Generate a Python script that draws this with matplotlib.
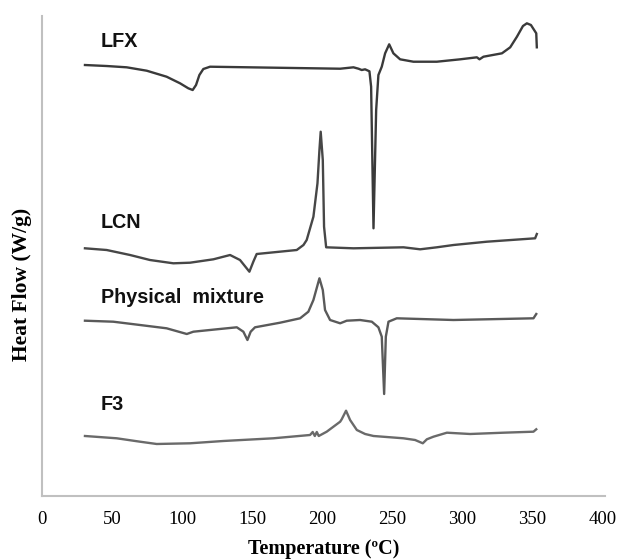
import matplotlib
matplotlib.use("Agg")
import matplotlib.pyplot as plt

# --- Data (temperature in °C, heat flow in arbitrary offset units) ---
lfx_t = [30.7, 46.2, 60.5, 74.8, 89.0, 98.6, 104.5, 107.6, 110.0, 112.4, 115.2, 120.0,
         212.9, 222.4, 226.0, 228.3, 230.7, 233.8, 235.0, 236.7, 238.6, 240.2, 242.6,
         245.0, 247.9, 250.9, 255.7, 265.2, 281.9, 298.6, 310.5, 312.4, 315.2, 328.4,
         334.3, 339.1, 343.4, 346.2, 349.1, 352.9, 353.3]
lfx_hf = [43.1, 43.0, 42.87, 42.53, 41.93, 41.27, 40.77, 40.6, 41.1, 42.1, 42.7, 42.93,
          42.73, 42.87, 42.73, 42.6, 42.67, 42.47, 40.93, 26.77, 38.6, 42.1, 42.93,
          44.27, 45.17, 44.27, 43.67, 43.43, 43.43, 43.67, 43.87, 43.67, 43.93, 44.27,
          44.87, 45.93, 47.0, 47.27, 47.1, 46.27, 44.87]

lcn_t = [30.7, 46.2, 62.9, 77.1, 93.8, 105.7, 122.4, 134.3, 141.4, 148.1, 150.9, 153.3,
         181.9, 186.7, 189.0, 193.8, 196.7, 198.1, 199.0, 200.5, 201.4, 202.9, 222.4,
         258.1, 270.0, 281.9, 293.8, 317.6, 352.1, 353.3]
lcn_hf = [24.77, 24.6, 24.1, 23.6, 23.27, 23.33, 23.67, 24.1, 23.6, 22.43, 23.43, 24.2,
          24.6, 25.1, 25.6, 27.93, 31.27, 34.6, 36.43, 33.6, 26.93, 24.87, 24.77,
          24.87, 24.67, 24.87, 25.1, 25.43, 25.77, 26.2]

pm_t = [30.7, 50.9, 70.0, 89.0, 103.4, 108.1, 124.8, 139.1, 143.8, 146.7, 149.0, 152.1,
        170.0, 184.3, 190.2, 193.8, 198.1, 200.5, 202.1, 205.7, 212.9, 217.6, 227.1,
        235.5, 240.2, 242.6, 244.3, 245.5, 247.4, 253.3, 293.8, 350.9, 352.9]
pm_hf = [17.53, 17.43, 17.1, 16.77, 16.2, 16.43, 16.67, 16.87, 16.43, 15.6, 16.43, 16.87,
         17.33, 17.77, 18.43, 19.6, 21.77, 20.6, 18.6, 17.6, 17.27, 17.53, 17.6,
         17.43, 16.87, 15.93, 10.2, 15.93, 17.43, 17.77, 17.6, 17.77, 18.2]

f3_t = [30.7, 53.4, 70.0, 81.9, 105.7, 129.5, 165.2, 191.4, 193.3, 194.8, 196.2, 197.6,
        203.3, 212.9, 214.0, 217.1, 220.0, 224.8, 230.7, 236.7, 258.1, 266.4, 271.9,
        274.8, 279.5, 289.1, 305.7, 329.5, 350.9, 352.9]
f3_hf = [6.0, 5.77, 5.43, 5.2, 5.27, 5.5, 5.77, 6.1, 6.4, 6.0, 6.4, 6.0,
         6.43, 7.43, 7.67, 8.53, 7.6, 6.6, 6.2, 6.0, 5.77, 5.6, 5.27,
         5.67, 5.93, 6.33, 6.2, 6.33, 6.43, 6.67]

labels = ["LFX", "LCN", "Physical  mixture", "F3"]
label_y = [45.5, 27.4, 19.9, 9.1]
x_ticks = [0, 50, 100, 150, 200, 250, 300, 350, 400]

# --- Plot ---
fig = plt.figure(figsize=(6.17, 5.6), dpi=100)
ax = fig.add_axes([0.068, 0.1143, 0.9126, 0.8571])

series = [(lfx_t, lfx_hf, "#3a3a3a"), (lcn_t, lcn_hf, "#474747"),
          (pm_t, pm_hf, "#5a5a5a"), (f3_t, f3_hf, "#6a6a6a")]
for t, hf, c in series:
    ax.plot(t, hf, color=c, linewidth=1.7, solid_joinstyle="round")

for name, y in zip(labels, label_y):
    ax.text(42, y, name, fontsize=14.2, fontweight="bold", family="Liberation Sans",
            ha="left", va="center", color="#111111")

ax.set_xlim(0, 402)
ax.set_ylim(0, 48)
ax.set_xticks(x_ticks)
ax.set_xticklabels([str(v) for v in x_ticks], family="Liberation Serif", fontsize=13.5)
ax.set_yticks([])
ax.tick_params(axis="x", length=0, pad=11)

ax.set_xlabel("Temperature (ºC)", family="Liberation Serif", fontweight="bold",
              fontsize=14.5, labelpad=8)
ax.set_ylabel("Heat Flow (W/g)", family="Liberation Serif", fontweight="bold",
              fontsize=15.5)
ax.yaxis.set_label_coords(-0.018, 0.44)

for s in ["top", "right"]:
    ax.spines[s].set_visible(False)
for s in ["left", "bottom"]:
    ax.spines[s].set_color("#c0c0c0")
    ax.spines[s].set_linewidth(1.5)

fig.savefig("out.png", dpi=100)
